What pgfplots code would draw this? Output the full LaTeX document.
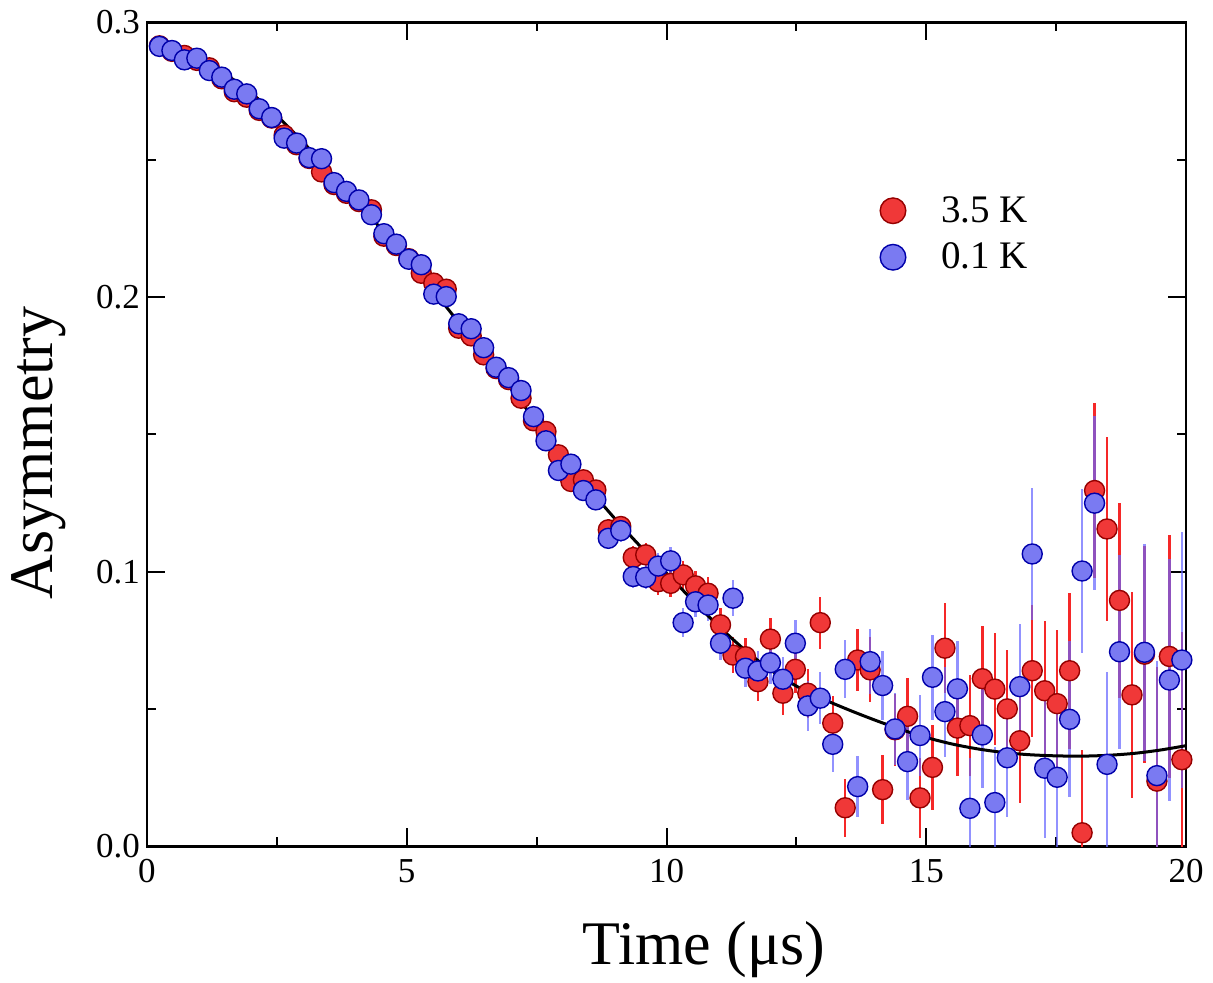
\documentclass[border=0pt]{standalone}
\usepackage{fontspec}
\setmainfont{Liberation Serif}
\usepackage{pgfplots}
\usepackage{pgfplotstable}
\pgfplotsset{compat=1.18}

\definecolor{redfill}{RGB}{240,56,56}
\definecolor{rededge}{RGB}{150,0,0}
\definecolor{redbar}{RGB}{245,40,40}
\definecolor{bluefill}{RGB}{122,122,242}
\definecolor{blueedge}{RGB}{0,0,170}
\definecolor{bluebar}{RGB}{100,100,255}

\pgfplotstableread{
t     red     blue    e
0.24  0.2915  0.2913  0.0005
0.48  0.2895  0.2898  0.0006
0.72  0.2880  0.2864  0.0006
0.96  0.2862  0.2870  0.0006
1.20  0.2835  0.2825  0.0007
1.44  0.2795  0.2801  0.0007
1.68  0.2748  0.2757  0.0007
1.92  0.2728  0.2740  0.0008
2.16  0.2680  0.2686  0.0008
2.40  0.2652  0.2654  0.0008
2.64  0.2590  0.2579  0.0009
2.88  0.2555  0.2561  0.0010
3.12  0.2505  0.2508  0.0010
3.36  0.2456  0.2504  0.0011
3.60  0.2410  0.2417  0.0011
3.84  0.2378  0.2385  0.0012
4.08  0.2348  0.2354  0.0013
4.32  0.2318  0.2300  0.0013
4.56  0.2222  0.2231  0.0014
4.80  0.2188  0.2193  0.0015
5.04  0.2140  0.2138  0.0016
5.28  0.2087  0.2118  0.0017
5.52  0.2051  0.2011  0.0018
5.76  0.2029  0.2002  0.0019
6.00  0.1887  0.1903  0.0020
6.24  0.1859  0.1885  0.0021
6.48  0.1790  0.1816  0.0022
6.72  0.1740  0.1745  0.0024
6.96  0.1700  0.1707  0.0025
7.20  0.1632  0.1660  0.0026
7.44  0.1550  0.1565  0.0027
7.68  0.1511  0.1477  0.0029
7.92  0.1426  0.1369  0.0030
8.16  0.1329  0.1392  0.0032
8.40  0.1335  0.1296  0.0034
8.64  0.1298  0.1262  0.0036
8.88  0.1153  0.1122  0.0038
9.12  0.1165  0.1150  0.0040
9.36  0.1052  0.0983  0.0042
9.60  0.1062  0.0980  0.0044
9.84  0.0964  0.1021  0.0047
10.08 0.0958  0.1040  0.0049
10.32 0.0989  0.0815  0.0052
10.56 0.0949  0.0891  0.0055
10.80 0.0922  0.0879  0.0058
11.04 0.0807  0.0740  0.0061
11.28 0.0697  0.0904  0.0065
11.52 0.0691  0.0649  0.0068
11.76 0.0600  0.0639  0.0072
12.00 0.0755  0.0669  0.0076
12.24 0.0558  0.0609  0.0081
12.48 0.0645  0.0740  0.0085
12.72 0.0558  0.0512  0.0090
12.96 0.0815  0.0540  0.0095
13.20 0.0449  0.0372  0.0100
13.44 0.0141  0.0645  0.0106
13.68 0.0679  0.0218  0.0112
13.92 0.0643  0.0673  0.0118
14.16 0.0207  0.0586  0.0125
14.40 0.0425  0.0428  0.0132
14.64 0.0474  0.0309  0.0139
14.88 0.0177  0.0404  0.0147
15.12 0.0288  0.0616  0.0155
15.36 0.0722  0.0491  0.0164
15.60 0.0431  0.0574  0.0173
15.84 0.0440  0.0139  0.0183
16.08 0.0611  0.0406  0.0193
16.32 0.0573  0.0160  0.0204
16.56 0.0501  0.0323  0.0216
16.80 0.0385  0.0582  0.0228
17.04 0.0640  0.1065  0.0241
17.28 0.0567  0.0285  0.0254
17.52 0.0520  0.0252  0.0269
17.76 0.0640  0.0463  0.0284
18.00 0.0050  0.1003  0.0300
18.24 0.1296  0.1250  0.0317
18.48 0.1156  0.0299  0.0335
18.72 0.0896  0.0709  0.0354
18.96 0.0552  nan     0.0374
19.20 0.0700  0.0707  0.0395
19.44 0.0238  0.0258  0.0417
19.68 0.0692  0.0606  0.0441
19.92 0.0316  0.0679  0.0466
}\data

\begin{document}
\begin{tikzpicture}
\begin{axis}[
  scale only axis,
  width=519.5pt, height=412pt,
  xmin=0, xmax=20, ymin=0, ymax=0.3,
  xtick={0,5,10,15,20},
  ytick={0,0.1,0.2,0.3},
  minor x tick num=1, minor y tick num=1,
  tick align=inside,
  xtick pos=both, ytick pos=both,
  xticklabel pos=left, yticklabel pos=left,
  major tick length=9pt, minor tick length=4.5pt,
  every tick/.style={black, line width=1pt},
  axis line style={line width=1.3pt},
  tick label style={font=\fontsize{17.5}{20}\selectfont},
  /pgf/number format/assume math mode=true,
  yticklabel style={/pgf/number format/.cd, fixed, fixed zerofill, precision=1},
  xticklabel style={yshift=-3pt},
  xlabel={Time (μs)},
  ylabel={Asymmetry},
  label style={font=\fontsize{31}{36}\selectfont},
  xlabel style={at={(rel axis cs:0.536,-0.1438)}, anchor=base},
  ylabel style={at={(rel axis cs:-0.0905,0.4776)}, anchor=base},
  legend cell align=left,
  legend style={draw=none, fill=none, inner sep=0pt, outer sep=0pt,
    at={(0.705,0.789)}, anchor=north west, row sep=8.8pt, column sep=0pt,
    nodes={inner xsep=0pt, inner ysep=0pt},
    font=\fontsize{19.5}{23}\selectfont},
]
% error bars
\addplot[only marks, mark=none, forget plot,
  error bars/.cd, y dir=both, y explicit, error mark=none,
  error bar style={line width=1.2pt, draw=redbar}]
  table[x=t, y=red, y error=e]{\data};
\addplot[only marks, mark=none, forget plot,
  error bars/.cd, y dir=both, y explicit, error mark=none,
  error bar style={line width=1.2pt, draw=bluebar, draw opacity=0.7}]
  table[x=t, y=blue, y error=e]{\data};
% markers
\addplot[only marks, mark=*, mark size=5pt,
  mark options={fill=redfill, draw=rededge, line width=0.7pt},
  legend image code/.code={\filldraw[fill=redfill, draw=rededge, line width=0.7pt] (0pt,0pt) circle (6.4pt); \path (24pt,0pt);}]
  table[x=t, y=red]{\data};
\addlegendentry{3.5 K}
\addplot[only marks, mark=*, mark size=5pt,
  mark options={fill=bluefill, draw=blueedge, line width=0.7pt},
  legend image code/.code={\filldraw[fill=bluefill, draw=blueedge, line width=0.7pt] (0pt,0pt) circle (6.4pt); \path (24pt,0pt);}]
  table[x=t, y=blue]{\data};
\addlegendentry{0.1 K}
% fit curve
\addplot[black, line width=1.5pt, smooth, forget plot] coordinates {
(0.2,0.2916)(0.5,0.2902)(1.0,0.2866)(1.5,0.2813)(2.0,0.2744)(2.5,0.2660)
(3.0,0.2565)(3.5,0.2463)(4.0,0.2358)(4.5,0.2250)(5.0,0.2140)(5.5,0.2026)
(6.0,0.1908)(6.5,0.1790)(7.0,0.1668)(7.5,0.1545)(8.0,0.1422)(8.5,0.1305)
(9.0,0.1195)(9.5,0.1092)(10.0,0.0995)(10.5,0.0897)(11.0,0.0803)(11.5,0.0717)
(12.0,0.0643)(12.5,0.0584)(13.0,0.0538)(13.5,0.0498)(14.0,0.0461)(14.5,0.0427)
(15.0,0.0397)(15.5,0.0373)(16.0,0.0355)(16.5,0.0342)(17.0,0.0334)(17.5,0.0330)
(18.0,0.0329)(18.5,0.0332)(19.0,0.0339)(19.5,0.0351)(20.0,0.0367)};
\coordinate (bbll) at (rel axis cs:-0.14148,-0.16566);
\coordinate (bbur) at (rel axis cs:1.02599,1.02730);
\end{axis}
\pgfresetboundingbox
\path[use as bounding box] (bbll) rectangle (bbur);
\end{tikzpicture}
\end{document}
